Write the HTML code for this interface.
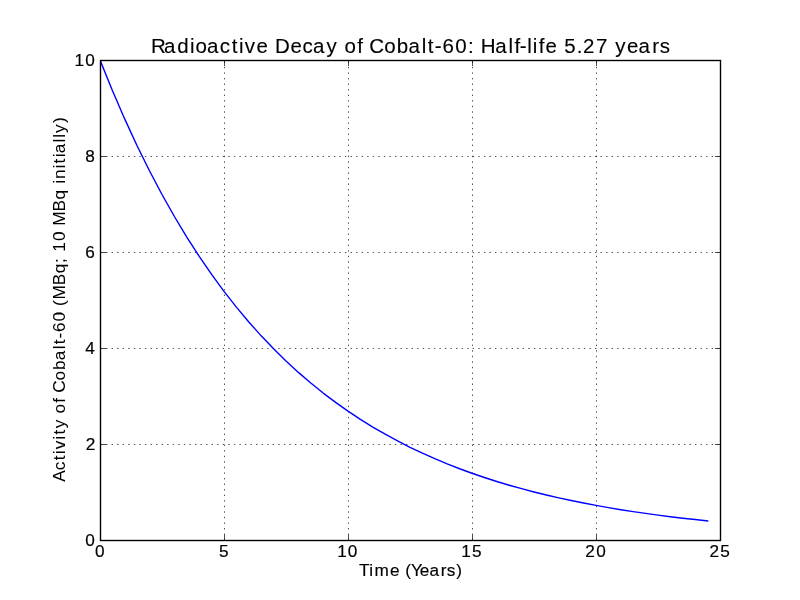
<!DOCTYPE html>
<html><head><meta charset="utf-8"><title>Radioactive Decay of Cobalt-60</title>
<style>
html,body{margin:0;padding:0;background:#fff;overflow:hidden;}
svg{display:block;will-change:transform;}
text{font-family:"Liberation Sans",sans-serif;fill:#000;}
</style></head><body>
<svg width="800" height="600" viewBox="0 0 800 600">
<rect x="0" y="0" width="800" height="600" fill="#fff"/>
<defs><clipPath id="ax"><rect x="100" y="60" width="620" height="480"/></clipPath></defs>
<g fill="none" stroke="#000" stroke-width="0.694" stroke-dasharray="1.389 4.167">
<line x1="224.5" y1="540.5" x2="224.5" y2="60.5"/>
<line x1="348.5" y1="540.5" x2="348.5" y2="60.5"/>
<line x1="472.5" y1="540.5" x2="472.5" y2="60.5"/>
<line x1="596.5" y1="540.5" x2="596.5" y2="60.5"/>
<line x1="100.5" y1="444.5" x2="720.5" y2="444.5"/>
<line x1="100.5" y1="348.5" x2="720.5" y2="348.5"/>
<line x1="100.5" y1="252.5" x2="720.5" y2="252.5"/>
<line x1="100.5" y1="156.5" x2="720.5" y2="156.5"/>
</g>
<polyline clip-path="url(#ax)" fill="none" stroke="#0000ff" stroke-width="1.42" stroke-linejoin="round" stroke-linecap="square" points="100.00,60.00 112.40,90.55 124.80,119.16 137.20,145.94 149.60,171.02 162.00,194.51 174.40,216.50 186.80,237.09 199.20,256.37 211.60,274.42 224.00,291.32 236.40,307.15 248.80,321.97 261.20,335.85 273.60,348.84 286.00,361.01 298.40,372.40 310.80,383.07 323.20,393.06 335.60,402.41 348.00,411.17 360.40,419.37 372.80,427.05 385.20,434.23 397.60,440.97 410.00,447.27 422.40,453.17 434.80,458.70 447.20,463.87 459.60,468.72 472.00,473.25 484.40,477.50 496.80,481.48 509.20,485.21 521.60,488.69 534.00,491.96 546.40,495.02 558.80,497.88 571.20,500.56 583.60,503.07 596.00,505.42 608.40,507.62 620.80,509.68 633.20,511.61 645.60,513.42 658.00,515.11 670.40,516.70 682.80,518.18 695.20,519.57 707.60,520.87"/>
<g fill="none" stroke="#000" stroke-width="0.694">
<line x1="100.5" y1="540.5" x2="100.5" y2="534.94"/>
<line x1="100.5" y1="60.5" x2="100.5" y2="66.06"/>
<line x1="224.5" y1="540.5" x2="224.5" y2="534.94"/>
<line x1="224.5" y1="60.5" x2="224.5" y2="66.06"/>
<line x1="348.5" y1="540.5" x2="348.5" y2="534.94"/>
<line x1="348.5" y1="60.5" x2="348.5" y2="66.06"/>
<line x1="472.5" y1="540.5" x2="472.5" y2="534.94"/>
<line x1="472.5" y1="60.5" x2="472.5" y2="66.06"/>
<line x1="596.5" y1="540.5" x2="596.5" y2="534.94"/>
<line x1="596.5" y1="60.5" x2="596.5" y2="66.06"/>
<line x1="720.5" y1="540.5" x2="720.5" y2="534.94"/>
<line x1="720.5" y1="60.5" x2="720.5" y2="66.06"/>
<line x1="100.5" y1="540.5" x2="106.06" y2="540.5"/>
<line x1="720.5" y1="540.5" x2="714.94" y2="540.5"/>
<line x1="100.5" y1="444.5" x2="106.06" y2="444.5"/>
<line x1="720.5" y1="444.5" x2="714.94" y2="444.5"/>
<line x1="100.5" y1="348.5" x2="106.06" y2="348.5"/>
<line x1="720.5" y1="348.5" x2="714.94" y2="348.5"/>
<line x1="100.5" y1="252.5" x2="106.06" y2="252.5"/>
<line x1="720.5" y1="252.5" x2="714.94" y2="252.5"/>
<line x1="100.5" y1="156.5" x2="106.06" y2="156.5"/>
<line x1="720.5" y1="156.5" x2="714.94" y2="156.5"/>
<line x1="100.5" y1="60.5" x2="106.06" y2="60.5"/>
<line x1="720.5" y1="60.5" x2="714.94" y2="60.5"/>
</g>
<rect x="100.5" y="60.5" width="620" height="480" fill="none" stroke="#000" stroke-width="1.389"/>
<text x="94.92" y="557" font-size="17.2" stroke="#000" stroke-width="0.18">0</text>
<text x="218.93" y="557" font-size="17.2" stroke="#000" stroke-width="0.18">5</text>
<text x="337.15 347.86" y="557" font-size="17.2" stroke="#000" stroke-width="0.18">10</text>
<text x="461.33 471.97" y="557" font-size="17.2" stroke="#000" stroke-width="0.18">15</text>
<text x="585.32 596.17" y="557" font-size="17.2" stroke="#000" stroke-width="0.18">20</text>
<text x="709.5 720.28" y="557" font-size="17.2" stroke="#000" stroke-width="0.18">25</text>
<text x="85.32" y="546" font-size="17.2" stroke="#000" stroke-width="0.18">0</text>
<text x="85.66" y="450" font-size="17.2" stroke="#000" stroke-width="0.18">2</text>
<text x="85.14" y="354" font-size="17.2" stroke="#000" stroke-width="0.18">4</text>
<text x="85.26" y="258" font-size="17.2" stroke="#000" stroke-width="0.18">6</text>
<text x="85.35" y="162" font-size="17.2" stroke="#000" stroke-width="0.18">8</text>
<text x="74.61 85.32" y="66" font-size="17.2" stroke="#000" stroke-width="0.18">10</text>
<text x="150.91 164.1 177.31 190.05 195.46 206.97 219.8 231.68 239.05 244.83 256.4 268.62 275 290.53 302.55 313.1 326.58 337.99 344.46 357.22 363.74 369.26 384.21 396.82 408.47 421.66 427.68 434.73 442.45 455.19 467.94 474.49 480.65 495.35 508.54 514.47 519.73 527.29 532.8 538.72 545.4 557.62 564.24 576.73 583.06 596.03 608.49 615.33 626.9 638.47 652.26 659.76" y="53" font-size="20.5" stroke="#000" stroke-width="0.12">Radioactive Decay of Cobalt-60: Half-life 5.27 years</text>
<text x="358.89 369.21 374.42 390.05 400.18 405.13 410.9 419.8 429.38 440.69 446.83 456.25" y="576" font-size="17.2" stroke="#000" stroke-width="0.15">Time (Years)</text>
<text transform="translate(65,481.63) rotate(-90) scale(1,1)" x="-0.04 11.49 21.4 27.51 32.36 42.01 47.06 53.39 62.88 68.24 78.88 84.24 88.8 101.24 111.73 121.4 132.31 137.38 143.22 149.61 160.21 170.56 175.55 182.13 196.43 208.31 218.58 224.36 229.83 240.52 250.87 255.94 270.24 282.12 292.56 298.01 302.76 313.21 318.26 324.37 328.29 339.21 343.84 348.69 358.75" font-size="17.2" stroke="#000" stroke-width="0.04">Activity of Cobalt-60 (MBq; 10 MBq initially)</text>
</svg>
</body></html>
